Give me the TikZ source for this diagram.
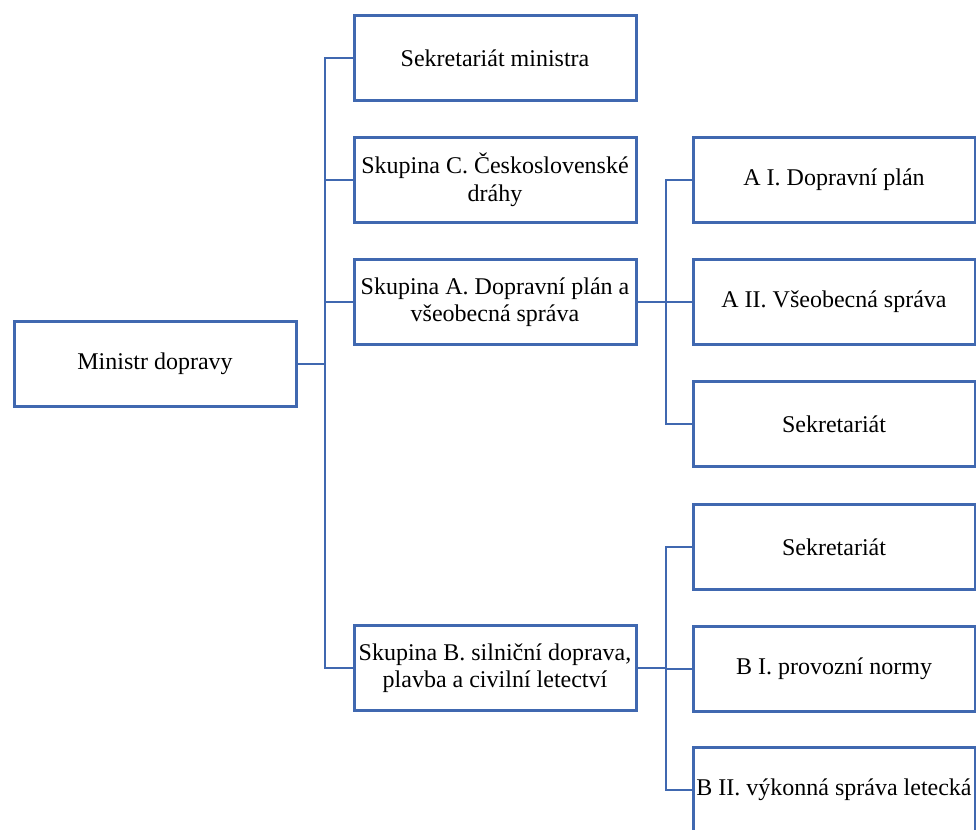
\documentclass[tikz,border=0pt]{standalone}
\usepackage{fontspec}
\setmainfont{Liberation Serif}
\definecolor{orgblue}{RGB}{64,104,176}
\begin{document}
\begin{tikzpicture}[x=1pt,y=-1pt,
  unit/.style={draw=orgblue, line width=3pt, fill=white, outer sep=0pt,
    minimum width=282pt, minimum height=85pt, inner sep=2pt,
    align=center, font=\fontsize{24}{27.5}\selectfont},
  link/.style={draw=orgblue, line width=2pt}]
\useasboundingbox (0,0) rectangle (976,829);
\clip (0,0) rectangle (976,829);

% top level
\node[unit] (min) at (155,363.5) {Ministr dopravy};

% groups under the minister
\node[unit] (sm) at (495,58.5) {Sekretariát ministra};
\node[unit] (sc) at (495,180) {Skupina C. Československé\\dráhy};
\node[unit] (sa) at (495,302) {Skupina A. Dopravní plán a\\všeobecná správa};
\node[unit] (sb) at (495,668) {Skupina B. silniční doprava,\\plavba a civilní letectví};

% departments of group A
\node[unit] (a1) at (834,180) {A I. Dopravní plán};
\node[unit] (a2) at (834,302) {A II. Všeobecná správa};
\node[unit] (as) at (834,424) {Sekretariát};

% departments of group B
\node[unit] (bs) at (834,547) {Sekretariát};
\node[unit] (b1) at (834,668.5) {B I. provozní normy};
\node[unit] (b2) at (834,790) {B II. výkonná správa letecká};

% junction points of the buses
\coordinate (j0) at (325,363.5);
\coordinate (ja) at (666,302);
\coordinate (jb) at (666,668);

% minister bus
\draw[link] (min.east) -- (j0);
\draw[link] (j0) |- (sm.west);
\draw[link] (j0) |- (sc.west);
\draw[link] (j0) |- (sa.west);
\draw[link] (j0) |- (sb.west);

% group A bus
\draw[link] (sa.east) -- (ja);
\draw[link] (ja) |- (a1.west);
\draw[link] (ja) |- (a2.west);
\draw[link] (ja) |- (as.west);

% group B bus
\draw[link] (sb.east) -- (jb);
\draw[link] (jb) |- (bs.west);
\draw[link] (jb) |- (b1.west);
\draw[link] (jb) |- (b2.west);
\end{tikzpicture}
\end{document}
